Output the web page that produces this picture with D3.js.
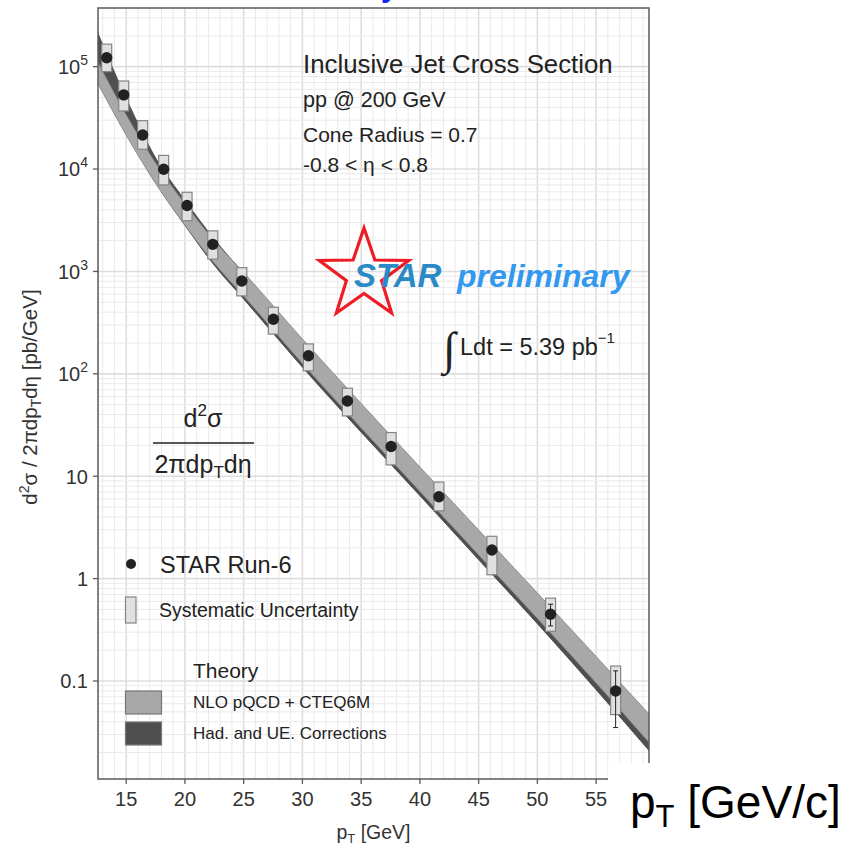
<!DOCTYPE html>
<html>
<head>
<meta charset="utf-8">
<script src="https://cdn.jsdelivr.net/npm/d3@7"></script>
<style>
  html, body { margin: 0; padding: 0; background: #fff; }
  svg { display: block; font-family: "Liberation Sans", Arial, Helvetica, sans-serif; }
</style>
</head>
<body>
<svg id="chart" width="850" height="844"></svg>
<script>
// ---------------- data ----------------
const ptData   = [13.34, 14.79, 16.40, 18.19, 20.18, 22.37, 24.84, 27.53, 30.51, 33.83, 37.55, 41.62, 46.13, 51.12, 56.66];
const xsecData = [1.22e5, 5.3e4, 2.15e4, 9950, 4400, 1840, 807, 341, 150, 54.3, 19.5, 6.3, 1.9, 0.449, 0.080];
const sysHigh  = [1.66e5, 7.24e4, 2.97e4, 1.36e4, 5930, 2490, 1090, 447, 196, 72.3, 26.7, 8.77, 2.59, 0.644, 0.140];
const sysLow   = [8.94e4, 3.69e4, 1.56e4, 7000, 3130, 1320, 577, 244, 107, 38.8, 12.9, 4.59, 1.09, 0.306, 0.047];
const statHigh = [1.24e5, 5.4e4, 2.19e4, 1.015e4, 4490, 1880, 825, 349, 154, 56.0, 20.3, 6.6, 2.02, 0.562, 0.1256];
const statLow  = [1.20e5, 5.2e4, 2.11e4, 9750, 4310, 1800, 789, 333, 146, 52.6, 18.7, 6.0, 1.78, 0.345, 0.0351];

const ptTheory = [12.5, 15, 17.5, 20, 22.5, 25, 30, 35, 40, 45, 50, 55, 60];
const nloHigh  = [1.161e5, 3.39e4, 1.148e4, 4571, 1995, 977, 218.8, 51.3, 12.3, 2.985, 0.724, 0.1738, 0.0412];
const nloLow   = [7.16e4, 2.14e4, 7244, 2818, 1202, 575, 125.9, 29.5, 7.08, 1.70, 0.407, 0.0955, 0.0216];
const corrHigh = [2.25e5, 4.9e4, 1.29e4, 4950, 2065, 955, 209, 49.0, 11.75, 2.85, 0.692, 0.166, 0.0394];
const corrLow  = [7.5e4, 2.24e4, 7413, 2818, 1148, 537, 116.1, 26.9, 6.46, 1.53, 0.363, 0.0822, 0.0180];

const xTicks = [15, 20, 25, 30, 35, 40, 45, 50, 55];
const yTickExps = [-1, 0, 1, 2, 3, 4, 5];
const yTickLabels = ["0.1", "1", "10", "10|2", "10|3", "10|4", "10|5"];

// ---------------- layout ----------------
const svg = d3.select("#chart");
const L = 98, R = 649, T = 8, B = 779;
const x = d3.scaleLinear().domain([12.6, 59.5]).range([L, R]);
const y = d3.scaleLog().domain([0.01104, 374000]).range([B, T]);

svg.append("rect").attr("width", 850).attr("height", 844).attr("fill", "#fff");

svg.append("defs").append("clipPath").attr("id", "plotclip")
  .append("rect").attr("x", L).attr("y", T).attr("width", R - L).attr("height", B - T);

const g = svg.append("g");

// grid
const grid = g.append("g").attr("clip-path", "url(#plotclip)");
for (let v = 13; v <= 59; v++) {
  const major = v % 5 === 0;
  grid.append("line").attr("x1", x(v)).attr("x2", x(v)).attr("y1", T).attr("y2", B)
    .attr("stroke", major ? "#dedede" : "#eaeaea").attr("stroke-width", major ? 1.6 : 1);
}
for (let e = -2; e <= 5; e++) {
  for (let k = 1; k <= 9; k++) {
    const v = k * Math.pow(10, e);
    if (v < y.domain()[0] || v > y.domain()[1]) continue;
    grid.append("line").attr("x1", L).attr("x2", R).attr("y1", y(v)).attr("y2", y(v))
      .attr("stroke", k === 1 ? "#dedede" : "#eaeaea").attr("stroke-width", k === 1 ? 1.6 : 1);
  }
}

// theory bands
const bands = g.append("g").attr("clip-path", "url(#plotclip)");
const corrArea = d3.area().curve(d3.curveMonotoneX)
  .x((d, i) => x(ptTheory[i])).y0((d, i) => y(corrLow[i])).y1((d, i) => y(corrHigh[i]));
const nloArea = d3.area().curve(d3.curveMonotoneX)
  .x((d, i) => x(ptTheory[i])).y0((d, i) => y(nloLow[i])).y1((d, i) => y(nloHigh[i]));
bands.append("path").datum(ptTheory).attr("d", corrArea)
  .attr("fill", "#4f4f4f").attr("stroke", "#404040").attr("stroke-width", 0.8);
bands.append("path").datum(ptTheory).attr("d", nloArea)
  .attr("fill", "#a8a8a8").attr("stroke", "#808080").attr("stroke-width", 0.8);

// data
const pts = g.append("g").attr("clip-path", "url(#plotclip)");
ptData.forEach((p, i) => {
  pts.append("rect").attr("x", x(p) - 5).attr("width", 10)
    .attr("y", y(sysHigh[i])).attr("height", y(sysLow[i]) - y(sysHigh[i]))
    .attr("fill", "#e0e0e0").attr("stroke", "#858585").attr("stroke-width", 1.2);
  pts.append("line").attr("x1", x(p)).attr("x2", x(p))
    .attr("y1", y(statHigh[i])).attr("y2", y(statLow[i])).attr("stroke", "#222").attr("stroke-width", 1);
  [statHigh[i], statLow[i]].forEach(v => {
    pts.append("line").attr("x1", x(p) - 2.5).attr("x2", x(p) + 2.5)
      .attr("y1", y(v)).attr("y2", y(v)).attr("stroke", "#222").attr("stroke-width", 1);
  });
  pts.append("circle").attr("cx", x(p)).attr("cy", y(xsecData[i])).attr("r", 5.7).attr("fill", "#222");
});

// frame
g.append("rect").attr("x", L).attr("y", T).attr("width", R - L).attr("height", B - T)
  .attr("fill", "none").attr("stroke", "#5a5a5a").attr("stroke-width", 1.5);

// axes ticks & labels
xTicks.forEach(t => {
  g.append("line").attr("x1", x(t)).attr("x2", x(t)).attr("y1", B).attr("y2", B + 5)
    .attr("stroke", "#5a5a5a").attr("stroke-width", 1.3);
  g.append("text").attr("x", x(t)).attr("y", 806).attr("text-anchor", "middle")
    .attr("font-size", 20).attr("fill", "#333").text(t);
});
yTickExps.forEach((e, i) => {
  const v = Math.pow(10, e);
  g.append("line").attr("x1", L - 5).attr("x2", L).attr("y1", y(v)).attr("y2", y(v))
    .attr("stroke", "#5a5a5a").attr("stroke-width", 1.3);
  const parts = yTickLabels[i].split("|");
  const t = g.append("text").attr("x", 88).attr("y", y(v) + 7.3).attr("text-anchor", "end")
    .attr("font-size", 20).attr("fill", "#333");
  t.append("tspan").text(parts[0]);
  if (parts[1]) t.append("tspan").attr("font-size", 14).attr("dy", -9).text(parts[1]);
});

// axis titles
const xt = g.append("text").attr("x", (L + R) / 2).attr("y", 839).attr("text-anchor", "middle")
  .attr("font-size", 19.5).attr("fill", "#333");
xt.append("tspan").text("p");
xt.append("tspan").attr("font-size", 13).attr("dy", 4).text("T");
xt.append("tspan").attr("dy", -4).text(" [GeV]");

const yt = g.append("text").attr("transform", "translate(37,397) rotate(-90)")
  .attr("text-anchor", "middle").attr("font-size", 20.5).attr("fill", "#333");
yt.append("tspan").text("d");
yt.append("tspan").attr("font-size", 14).attr("dy", -8).text("2");
yt.append("tspan").attr("dy", 8).text("σ / 2πdp");
yt.append("tspan").attr("font-size", 14).attr("dy", 4).text("T");
yt.append("tspan").attr("dy", -4).text("dη [pb/GeV]");

// annotations
const ann = g.append("g").attr("fill", "#222");
ann.append("text").attr("x", 303).attr("y", 73).attr("font-size", 25.8).text("Inclusive Jet Cross Section");
ann.append("text").attr("x", 303).attr("y", 107).attr("font-size", 21.5).text("pp @ 200 GeV");
ann.append("text").attr("x", 303).attr("y", 141.5).attr("font-size", 21).text("Cone Radius = 0.7");
ann.append("text").attr("x", 303).attr("y", 172).attr("font-size", 21).text("-0.8 < η < 0.8");

// STAR star logo
const cx = 364, cy = 275, Ro = 47, Ri = 18.5;
const starPts = d3.range(10).map(k => {
  const a = -Math.PI / 2 + k * Math.PI / 5;
  const r = k % 2 === 0 ? Ro : Ri;
  return [cx + r * Math.cos(a), cy + r * Math.sin(a)];
});
g.append("path").attr("d", d3.line()(starPts) + "Z")
  .attr("fill", "none").attr("stroke", "#ee1c24").attr("stroke-width", 3.2).attr("stroke-linejoin", "miter");
g.append("text").attr("x", 354).attr("y", 287).attr("font-size", 33).attr("font-weight", "bold")
  .attr("font-style", "italic").attr("fill", "#2a8ac6").text("STAR");
g.append("text").attr("x", 457).attr("y", 287).attr("font-size", 32).attr("font-weight", "bold")
  .attr("font-style", "italic").attr("fill", "#3399ee").text("preliminary");

// luminosity
g.append("text").attr("x", 443).attr("y", 364).attr("font-size", 46)
  .attr("font-family", "'Liberation Serif', serif").attr("fill", "#222").text("∫");
const lum = g.append("text").attr("x", 460).attr("y", 355).attr("font-size", 23.5).attr("fill", "#222");
lum.append("tspan").text("Ldt = 5.39 pb");
lum.append("tspan").attr("font-size", 15).attr("dy", -12).text("−1");

// fraction label
const fr = g.append("text").attr("x", 203).attr("y", 427).attr("text-anchor", "middle")
  .attr("font-size", 25).attr("fill", "#222");
fr.append("tspan").text("d");
fr.append("tspan").attr("font-size", 17).attr("dy", -11).text("2");
fr.append("tspan").attr("dy", 11).text("σ");
g.append("line").attr("x1", 153).attr("x2", 254).attr("y1", 443).attr("y2", 443)
  .attr("stroke", "#222").attr("stroke-width", 1.5);
const fr2 = g.append("text").attr("x", 203).attr("y", 473).attr("text-anchor", "middle")
  .attr("font-size", 25).attr("fill", "#222");
fr2.append("tspan").text("2πdp");
fr2.append("tspan").attr("font-size", 17).attr("dy", 5).text("T");
fr2.append("tspan").attr("dy", -5).text("dη");

// legend
const lg = g.append("g");
lg.append("circle").attr("cx", 131).attr("cy", 564).attr("r", 5).attr("fill", "#222");
lg.append("text").attr("x", 160).attr("y", 573).attr("font-size", 23.5).attr("fill", "#222").text("STAR Run-6");
lg.append("rect").attr("x", 125.5).attr("y", 597).attr("width", 10.5).attr("height", 26)
  .attr("fill", "#e0e0e0").attr("stroke", "#858585").attr("stroke-width", 1.2);
lg.append("text").attr("x", 159).attr("y", 617).attr("font-size", 19.5).attr("fill", "#222").text("Systematic Uncertainty");
lg.append("text").attr("x", 193).attr("y", 678).attr("font-size", 21).attr("fill", "#222").text("Theory");
lg.append("rect").attr("x", 125.5).attr("y", 691).attr("width", 36).attr("height", 23)
  .attr("fill", "#a8a8a8").attr("stroke", "#777").attr("stroke-width", 1.2);
lg.append("text").attr("x", 193).attr("y", 708).attr("font-size", 17).attr("fill", "#222").text("NLO pQCD + CTEQ6M");
lg.append("rect").attr("x", 125.5).attr("y", 722).attr("width", 36).attr("height", 23)
  .attr("fill", "#4f4f4f").attr("stroke", "#777").attr("stroke-width", 1.2);
lg.append("text").attr("x", 193).attr("y", 739).attr("font-size", 17).attr("fill", "#222").text("Had. and UE. Corrections");

// cut-off title fragment at top
svg.append("text").attr("x", 381).attr("y", -3).attr("font-size", 30).attr("font-weight", "bold")
  .attr("fill", "#1a22f0").text("y");

// overlay box with large axis label
svg.append("rect").attr("x", 608).attr("y", 763).attr("width", 242).attr("height", 81).attr("fill", "#fff");
const big = svg.append("text").attr("x", 630).attr("y", 818).attr("font-size", 46).attr("fill", "#000");
big.append("tspan").text("p");
big.append("tspan").attr("font-size", 31).attr("dy", 9).text("T");
big.append("tspan").attr("dy", -9).text(" [GeV/c]");
</script>
</body>
</html>
